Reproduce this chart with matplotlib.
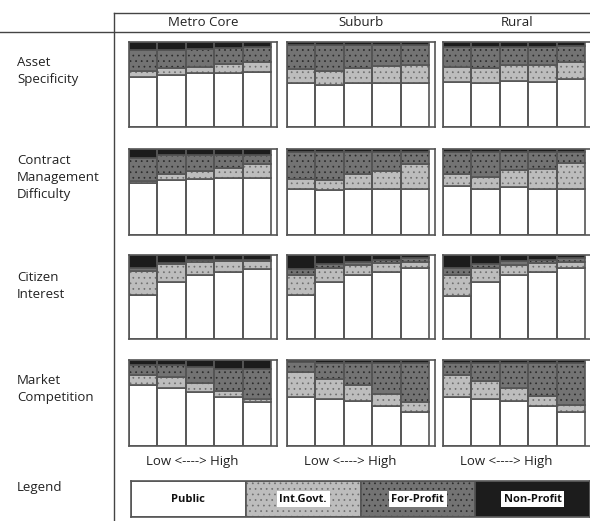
import matplotlib.pyplot as plt
from matplotlib.lines import Line2D

plt.rcParams['font.family'] = ['Open Sans', 'DejaVu Sans']
plt.rcParams['hatch.linewidth'] = 0.5

W, H = 590, 521

columns = ['Metro Core', 'Suburb', 'Rural']
rows = ['Asset\nSpecificity', 'Contract\nManagement\nDifficulty',
        'Citizen\nInterest', 'Market\nCompetition']
sectors = ['Public', 'Int.Govt.', 'For-Profit', 'Non-Profit']

# shares (%) for the 5 levels, low -> high, per row and column
public = [
    [[59, 61, 63, 64, 65], [52, 50, 52, 52, 52], [53, 52, 54, 53, 57]],
    [[61, 64, 65, 66, 66], [53, 52, 53, 53, 53], [57, 53, 56, 53, 53]],
    [[52, 68, 76, 80, 83], [52, 68, 76, 80, 84], [51, 68, 76, 80, 84]],
    [[71, 68, 63, 57, 51], [57, 55, 52, 47, 40], [57, 55, 52, 46, 40]],
]
intgov = [
    [[7, 8, 8, 10, 12], [16, 16, 17, 20, 21], [18, 17, 19, 20, 19]],
    [[2, 7, 9, 12, 17], [12, 12, 18, 21, 29], [14, 15, 20, 24, 31]],
    [[29, 21, 16, 13, 10], [24, 17, 12, 10, 8], [25, 16, 12, 10, 8]],
    [[11, 12, 10, 7, 4], [29, 23, 19, 14, 11], [25, 21, 16, 12, 8]],
]
forprofit = [
    [[25, 22, 21, 19, 17], [28, 30, 28, 25, 24], [23, 25, 21, 21, 19]],
    [[26, 22, 19, 15, 10], [32, 33, 26, 23, 15], [25, 28, 20, 19, 12]],
    [[3, 2, 2, 1, 1], [7, 4, 4, 4, 4], [8, 5, 5, 4, 4]],
    [[12, 14, 19, 26, 35], [12, 19, 26, 36, 46], [14, 20, 28, 38, 48]],
]
nonprofit = [
    [[9, 9, 8, 7, 6], [4, 4, 3, 3, 3], [6, 6, 6, 6, 5]],
    [[11, 7, 7, 7, 7], [3, 3, 3, 3, 3], [4, 4, 4, 4, 4]],
    [[16, 9, 6, 6, 6], [17, 11, 8, 6, 4], [16, 11, 7, 6, 4]],
    [[6, 6, 8, 10, 10], [2, 3, 3, 3, 3], [4, 4, 4, 4, 4]],
]
levels = [0, 1, 2, 3, 4]

faces = ['white', '#bdbdbd', '#737373', '#1c1c1c']
dots = [None, '#6e6e6e', '#2a2a2a', None]
edge = '#555555'

col_x = [129, 287, 443]
panel_w = 148
row_y = [(42, 127), (149, 235), (255, 339), (360, 446)]
label_y = [71, 178, 286, 389]


def add_ax(x0, y0, x1, y1):
    return fig.add_axes([x0 / W, 1 - y1 / H, (x1 - x0) / W, (y1 - y0) / H])


def stacked(ax, series):
    bottom = [0] * len(levels)
    for k, vals in enumerate(series):
        if dots[k]:
            ax.bar(levels, vals, width=1, bottom=bottom, align='edge',
                   color=faces[k], edgecolor=dots[k], hatch='...', linewidth=0)
        else:
            ax.bar(levels, vals, width=1, bottom=bottom, align='edge',
                   color=faces[k], linewidth=0)
        ax.bar(levels, vals, width=1, bottom=bottom, align='edge',
               fill=False, edgecolor=edge, linewidth=1.2)
        bottom = [b + v for b, v in zip(bottom, vals)]


fig = plt.figure(figsize=(W / 100, H / 100), dpi=100)

for i in range(len(rows)):
    for j in range(len(columns)):
        ax = add_ax(col_x[j], row_y[i][0], col_x[j] + panel_w, row_y[i][1])
        stacked(ax, [public[i][j], intgov[i][j], forprofit[i][j], nonprofit[i][j]])
        ax.set_xlim(0, 5.2)
        ax.set_ylim(0, 100)
        ax.set_xticks([])
        ax.set_yticks([])
        for s in ax.spines.values():
            s.set_color(edge)
            s.set_linewidth(1.2)
    fig.text(17 / W, 1 - label_y[i] / H, rows[i], ha='left', va='center',
             fontsize=9.5, linespacing=1.4, color='#222222')

for j, name in enumerate(columns):
    fig.text((col_x[j] + 74) / W, 1 - 22 / H, name, ha='center', va='center',
             fontsize=9.5, color='#222222')
    fig.text((col_x[j] + 63) / W, 1 - 462 / H, 'Low <----> High', ha='center',
             va='center', fontsize=9.5, color='#222222')

fig.text(17 / W, 1 - 488 / H, 'Legend', ha='left', va='center', fontsize=9.5,
         color='#222222')

# legend strip
lax = add_ax(131, 481, 590, 517)
for k, name in enumerate(sectors):
    if dots[k]:
        lax.barh(0, 1, left=k, height=1, align='edge', color=faces[k],
                 edgecolor=dots[k], hatch='...', linewidth=0)
    else:
        lax.barh(0, 1, left=k, height=1, align='edge', color=faces[k], linewidth=0)
    lax.barh(0, 1, left=k, height=1, align='edge', fill=False,
             edgecolor=edge, linewidth=1.2)
    box = None if k == 0 else dict(facecolor='white', edgecolor='none', pad=2)
    lax.text(k + 0.5, 0.5, name, ha='center', va='center', fontsize=8,
             fontweight='bold', color='#111111', bbox=box)
lax.set_xlim(0, 4)
lax.set_ylim(0, 1)
lax.set_xticks([])
lax.set_yticks([])
for s in lax.spines.values():
    s.set_color(edge)
    s.set_linewidth(1.2)

# table rules
fig.add_artist(Line2D([114 / W, 1], [1 - 13 / H, 1 - 13 / H], color='#444444', lw=1))
fig.add_artist(Line2D([0, 1], [1 - 32 / H, 1 - 32 / H], color='#444444', lw=1))
fig.add_artist(Line2D([114 / W, 114 / W], [0, 1 - 13 / H], color='#444444', lw=1))

fig.savefig('out.png', dpi=100)
